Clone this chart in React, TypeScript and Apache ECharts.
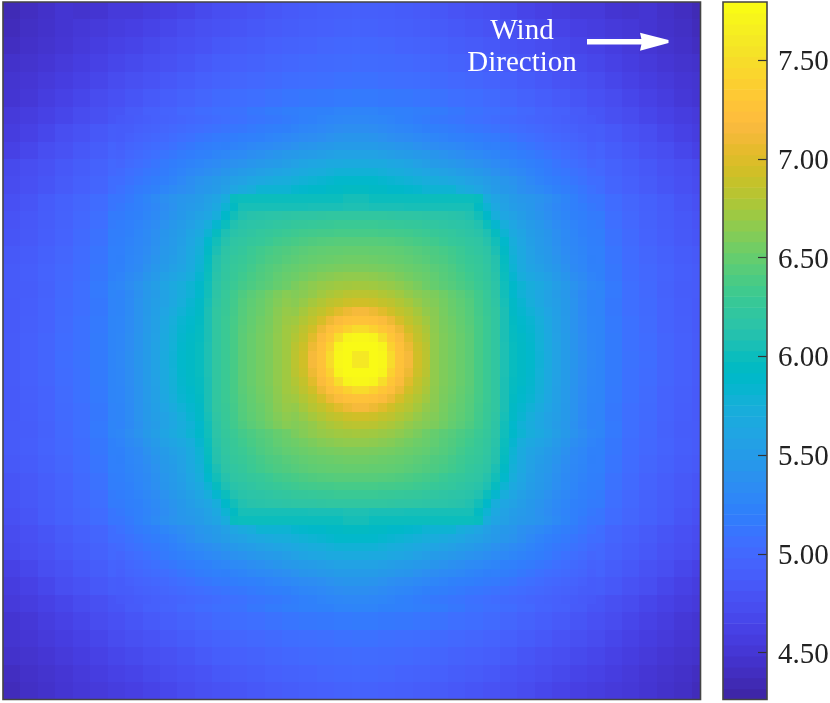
import React, { useEffect, useRef } from "react";
import * as echarts from "echarts";

const VALUE_MIN = 4.263;
const VALUE_MAX = 7.794;
const tickValues = [4.5, 5, 5.5, 6, 6.5, 7, 7.5];

const parula = [
  [0.2422,0.1504,0.6603],[0.2504,0.165,0.7076],[0.2578,0.1818,0.7511],[0.2647,0.1978,0.7952],
  [0.2706,0.2147,0.8364],[0.2751,0.2342,0.871],[0.2783,0.2559,0.8991],[0.2803,0.2782,0.9221],
  [0.2813,0.3006,0.9414],[0.281,0.3228,0.9579],[0.2795,0.3447,0.9717],[0.276,0.3667,0.9829],
  [0.2699,0.3892,0.9906],[0.2602,0.4123,0.9952],[0.244,0.4358,0.9988],[0.2206,0.4603,0.9973],
  [0.1963,0.4847,0.9892],[0.1834,0.5074,0.9798],[0.1786,0.5289,0.9682],[0.1764,0.5499,0.952],
  [0.1687,0.5703,0.9359],[0.154,0.5902,0.9218],[0.146,0.6091,0.9079],[0.138,0.6276,0.8973],
  [0.1248,0.6459,0.8883],[0.1113,0.6635,0.8763],[0.0952,0.6798,0.8598],[0.0689,0.6948,0.8394],
  [0.0297,0.7082,0.8163],[0.0036,0.7203,0.7917],[0.0067,0.7312,0.766],[0.0433,0.7411,0.7394],
  [0.0964,0.75,0.712],[0.1408,0.7584,0.6842],[0.1717,0.767,0.6554],[0.1938,0.7758,0.6251],
  [0.2161,0.7843,0.5923],[0.247,0.7918,0.5567],[0.2906,0.7973,0.5188],[0.3406,0.8008,0.4789],
  [0.3909,0.8029,0.4354],[0.4456,0.8024,0.3909],[0.5044,0.7993,0.348],[0.5616,0.7942,0.3045],
  [0.6174,0.7876,0.2612],[0.672,0.7793,0.2227],[0.7242,0.7698,0.191],[0.7738,0.7598,0.1646],
  [0.8203,0.7498,0.1535],[0.8634,0.7406,0.1596],[0.9035,0.733,0.1774],[0.9393,0.7288,0.21],
  [0.9728,0.7298,0.2394],[0.9956,0.7434,0.2371],[0.997,0.7659,0.2199],[0.9952,0.7893,0.2028],
  [0.9892,0.8136,0.1885],[0.9786,0.8386,0.1766],[0.9676,0.8639,0.1643],[0.961,0.889,0.1537],
  [0.9597,0.9135,0.1423],[0.9628,0.9373,0.1265],[0.9691,0.9606,0.1064],[0.9769,0.9839,0.0805],
].map(([r, g, b]) => `rgb(${Math.round(r * 255)},${Math.round(g * 255)},${Math.round(b * 255)})`);

// Outer field readings in hundredths, per 2-cell block, by block distance from the centre.
const outerBlocks = [
  [762,775,745,715,678,665,655,647,625,605,590,575,555,540,525,515,508,503,495,490,485],
  [775,775,740,712,677,664,654,645,625,605,590,574,555,540,525,515,507,502,495,490,485],
  [745,740,725,700,675,662,652,643,625,605,590,573,554,539,525,514,507,501,494,489,484],
  [715,712,700,682,672,660,650,640,626,606,589,572,554,539,524,513,505,500,493,488,484],
  [678,677,675,672,663,653,647,640,628,610,590,570,555,540,525,514,505,499,492,487,485],
  [665,664,662,660,653,650,642,633,620,600,580,562,550,535,522,512,503,498,493,488,485],
  [655,654,652,650,647,642,633,628,612,595,575,558,545,532,520,510,502,496,491,486,483],
  [637,636,633,632,630,628,625,622,603,585,568,555,542,530,518,508,500,493,488,483,480],
  [622,620,620,618,620,620,615,612,600,580,562,550,538,528,515,505,498,492,487,482,478],
  [603,602,600,598,598,598,594,590,565,550,545,540,528,518,510,502,496,491,486,480,475],
  [592,591,590,585,578,575,572,565,545,538,530,522,515,510,503,495,490,485,480,475,470],
  [575,574,572,568,565,556,548,544,538,530,522,515,510,503,498,492,487,482,477,472,468],
  [552,550,548,545,542,538,533,529,525,520,515,510,505,500,493,487,482,477,472,466,460],
  [538,537,535,532,528,525,522,518,515,512,508,503,498,493,487,482,477,472,466,460,455],
  [525,524,522,520,518,515,512,508,505,502,498,494,490,485,480,474,470,465,460,455,452],
  [515,514,513,512,510,508,505,503,500,496,492,488,484,480,475,470,465,460,455,450,447],
  [508,507,505,504,503,500,498,496,493,490,486,482,478,474,470,465,460,456,452,448,446],
  [502,501,500,499,497,495,492,490,488,484,480,476,472,468,465,460,456,452,448,445,443],
  [498,497,496,494,492,490,487,485,482,478,475,471,467,463,460,456,452,448,445,442,438],
  [493,492,490,489,487,485,482,480,477,474,470,466,462,458,455,452,450,447,443,440,435],
  [490,489,488,486,484,481,478,475,472,468,463,459,455,452,452,447,445,447,442,438,433],
];

// Inner field readings, cell by cell, by cell distance from the centre (28 x 28).
const innerCells = [
  [760,775,770,740,700,680,670,665,674,668,661,657,652,647,638,630,622,608,598,593,588,578,568,557,550,542,535,528],
  [770,775,765,735,700,680,670,665,674,668,661,657,652,647,638,630,622,608,598,593,587,577,567,557,549,541,534,527],
  [770,765,745,720,695,678,668,663,674,668,661,657,652,647,638,630,622,607,597,592,586,576,566,556,549,541,534,527],
  [735,730,720,700,685,672,665,660,674,667,660,656,651,646,638,630,622,607,596,590,584,575,565,555,548,540,533,526],
  [700,698,695,685,675,668,662,658,672,666,659,655,650,645,637,630,622,607,595,588,582,573,563,555,548,540,533,526],
  [680,680,678,672,668,662,658,654,670,665,658,653,649,644,636,629,622,607,593,585,578,569,561,554,547,540,532,525],
  [670,670,668,665,662,658,654,650,667,662,657,652,648,643,635,628,620,605,592,582,573,565,558,553,547,540,532,525],
  [665,665,663,660,658,654,650,648,664,660,655,650,646,641,634,627,618,603,588,578,570,563,557,551,545,538,531,524],
  [676,675,674,672,670,667,663,659,654,651,647,644,640,636,630,625,617,602,590,580,572,566,560,553,547,540,534,527],
  [668,668,667,665,663,660,657,654,652,649,645,642,638,633,628,623,615,600,584,572,565,560,555,548,542,535,531,524],
  [660,660,659,658,657,655,653,651,649,646,643,640,635,630,627,622,613,598,580,568,560,555,550,544,538,531,527,522],
  [655,655,654,653,652,651,649,647,645,642,640,636,632,628,625,620,612,596,578,567,558,552,547,541,535,529,526,521],
  [651,651,650,650,649,648,646,644,642,640,637,634,630,625,622,618,607,593,575,565,556,550,545,539,533,528,525,520],
  [645,645,645,644,643,642,640,638,636,634,630,627,625,622,620,613,603,588,572,562,554,548,543,537,531,527,523,519],
  [637,637,637,636,636,635,634,632,630,628,626,624,621,618,615,608,597,580,567,560,552,547,542,536,530,526,522,518],
  [630,630,630,629,628,627,626,625,623,622,620,618,617,615,610,600,585,572,562,555,549,544,539,533,528,524,520,517],
  [622,622,622,622,621,620,620,619,618,617,616,615,614,610,603,590,572,562,557,552,546,541,536,530,526,522,519,515],
  [608,608,606,606,606,606,605,605,605,605,605,605,605,605,595,580,565,558,552,548,544,539,534,528,524,520,517,513],
  [604,604,600,600,600,600,600,600,600,600,600,600,600,600,598,570,560,555,550,545,543,540,536,530,525,520,514,510],
  [595,595,593,593,590,590,587,585,580,580,580,580,572,568,562,555,550,546,543,537,534,530,526,522,518,515,511,507],
  [588,588,588,585,582,580,578,575,572,570,568,565,562,558,555,551,547,543,540,535,529,524,520,517,514,511,508,503],
  [578,578,578,575,572,570,568,565,562,560,557,555,552,549,546,542,538,535,532,528,524,520,516,513,511,508,505,500],
  [568,568,567,566,564,562,560,556,553,550,548,545,543,540,538,535,532,529,526,523,520,517,514,510,507,504,501,496],
  [558,558,557,555,553,551,550,547,545,542,540,537,535,532,530,527,525,522,520,517,515,512,509,506,503,500,497,492],
  [550,550,549,547,545,543,542,539,536,534,532,530,528,525,523,521,520,518,516,513,510,507,504,502,500,497,495,490],
  [542,542,541,539,536,534,533,530,528,526,524,522,520,519,517,515,514,512,510,507,505,502,499,497,495,493,490,486],
  [535,535,534,532,529,527,526,523,521,519,518,516,514,512,511,509,508,506,504,502,500,498,496,494,492,490,487,486],
  [528,528,527,526,524,522,520,517,515,513,512,510,509,507,506,504,502,500,499,497,495,493,492,490,488,486,484,482],
];

// The peak, read cell by cell (16 x 16 cells, hundredths).
const peakCells = [
  [662,665,669,674,678,681,684,685,685,684,681,678,674,669,665,662],
  [665,670,676,681,686,689,693,695,695,693,689,686,681,676,670,665],
  [669,676,683,688,695,704,711,716,716,711,704,695,688,683,676,669],
  [674,681,688,698,711,721,726,728,728,726,721,711,698,688,681,674],
  [678,686,695,711,724,732,742,750,750,742,732,724,711,695,686,678],
  [681,689,704,721,732,752,773,776,776,773,752,732,721,704,689,681],
  [684,693,711,726,742,773,778,778,778,778,773,742,726,711,693,684],
  [685,695,716,728,750,776,778,762,762,778,776,750,728,716,695,685],
  [685,695,716,728,750,776,778,762,762,778,776,750,728,716,695,685],
  [684,693,711,726,742,773,778,778,778,778,773,742,726,711,693,684],
  [681,689,704,721,732,752,773,776,776,773,752,732,721,704,689,681],
  [678,686,695,711,724,732,742,750,750,742,732,724,711,695,686,678],
  [674,681,688,698,711,721,726,728,728,726,721,711,698,688,681,674],
  [669,676,683,688,695,704,711,716,716,711,704,695,688,683,676,669],
  [665,670,676,681,686,689,693,695,695,693,689,686,681,676,670,665],
  [662,665,669,674,678,681,684,685,685,684,681,678,674,669,665,662],
];

const CELLS = 80;
const PEAK_START = 33;
const CENTRE_COL = 40;

function buildCells() {
  const out: number[][] = [];
  for (let r = 0; r < CELLS; r++) {
    for (let c = 0; c < CELLS; c++) {
      const pr = r - PEAK_START;
      const pc = c - PEAK_START;
      let reading: number;
      if (pr >= 0 && pr < peakCells.length && pc >= 0 && pc < peakCells.length) {
        reading = peakCells[pr][pc];
      } else {
        const kx = Math.abs(c - CENTRE_COL);
        const ky = r <= 40 ? 40 - r : r - 41;
        reading =
          kx < innerCells.length && ky < innerCells.length
            ? innerCells[ky][kx]
            : outerBlocks[(ky + 1) >> 1][(kx + 1) >> 1];
      }
      out.push([c, r, reading / 100]);
    }
  }
  return out;
}

export default function App() {
  const ref = useRef<HTMLDivElement>(null);
  useEffect(() => {
    if (!ref.current) return;
    const chart = echarts.init(ref.current, undefined, { renderer: "svg" });
    const cats = Array.from({ length: CELLS }, (_, i) => String(i));
    const span = VALUE_MAX - VALUE_MIN;
    const bands = parula.map((color, i) => ({
      value: [VALUE_MIN + (span * i) / parula.length, VALUE_MIN + (span * (i + 1)) / parula.length],
      color,
    }));
    const serif = '"Liberation Serif", "DejaVu Serif", serif';
    const frame = { stroke: "#444", lineWidth: 1.6, fill: "none" };
    chart.setOption({
      animation: false,
      grid: [
        { left: 3, top: 2, width: 697.5, height: 697.5, outerBoundsMode: "none" },
        { left: 723, top: 2, width: 44, height: 697.5, outerBoundsMode: "none" },
      ],
      xAxis: [
        { type: "category", data: cats, gridIndex: 0, show: false },
        { type: "value", min: 0, max: 1, gridIndex: 1, show: false },
      ],
      yAxis: [
        { type: "category", data: cats, inverse: true, gridIndex: 0, show: false },
        {
          type: "value",
          gridIndex: 1,
          min: VALUE_MIN,
          max: VALUE_MAX,
          position: "right",
          z: 20,
          splitLine: { show: false },
          axisLine: { show: false, onZero: false },
          axisTick: {
            show: true,
            inside: true,
            length: 9,
            customValues: tickValues,
            lineStyle: { color: "#333", width: 1.2 },
          },
          axisLabel: {
            show: true,
            customValues: tickValues,
            formatter: (v: number) => v.toFixed(2),
            margin: 11,
            padding: [0, 0, 8, 0],
            fontFamily: serif,
            fontSize: 29,
            color: "#222",
          },
        },
      ],
      visualMap: {
        show: false,
        type: "continuous",
        seriesIndex: 0,
        dimension: 2,
        min: VALUE_MIN,
        max: VALUE_MAX,
        inRange: { color: parula },
      },
      series: [
        {
          type: "custom",
          xAxisIndex: 0,
          yAxisIndex: 0,
          silent: true,
          encode: { x: 0, y: 1 },
          data: buildCells(),
          renderItem: (_p: any, api: any) => {
            const center = api.coord([api.value(0), api.value(1)]);
            const size = api.size([1, 1]);
            const x0 = Math.round(center[0] - size[0] / 2 + 1e-6);
            const x1 = Math.round(center[0] + size[0] / 2 + 1e-6);
            const y0 = Math.round(center[1] - size[1] / 2 + 1e-6);
            const y1 = Math.round(center[1] + size[1] / 2 + 1e-6);
            return {
              type: "rect",
              shape: { x: x0, y: y0, width: x1 - x0, height: y1 - y0 },
              style: { fill: api.visual("color") },
            };
          },
        },
        {
          type: "custom",
          xAxisIndex: 1,
          yAxisIndex: 1,
          silent: true,
          encode: { y: [0, 1] },
          data: bands.map((b) => ({ value: b.value })),
          renderItem: (params: any, api: any) => {
            const a = api.coord([0, api.value(0)]);
            const b = api.coord([1, api.value(1)]);
            return {
              type: "rect",
              shape: { x: a[0], y: b[1], width: b[0] - a[0], height: a[1] - b[1] + 0.6 },
              style: { fill: bands[params.dataIndex].color },
            };
          },
        },
      ],
      graphic: [
        { type: "rect", z: 50, shape: { x: 3, y: 2, width: 697.5, height: 697.5 }, style: frame },
        { type: "rect", z: 50, shape: { x: 723, y: 2, width: 44, height: 697.5 }, style: frame },
        {
          type: "text", z: 50, x: 522, y: 29,
          style: { text: "Wind", fill: "#fff", font: `29px ${serif}`, align: "center", verticalAlign: "middle" },
        },
        {
          type: "text", z: 50, x: 522, y: 61,
          style: { text: "Direction", fill: "#fff", font: `29px ${serif}`, align: "center", verticalAlign: "middle" },
        },
        { type: "rect", z: 50, shape: { x: 587, y: 39, width: 56, height: 5.4 }, style: { fill: "#fff" } },
        {
          type: "polygon", z: 50,
          shape: { points: [[640, 32.7], [668.5, 40], [668.5, 43], [640, 50.7], [642, 41.7]] },
          style: { fill: "#fff" },
        },
      ],
    });
    return () => chart.dispose();
  }, []);
  return <div ref={ref} style={{ position: "fixed", left: 0, top: 0, width: 830, height: 703 }} />;
}
